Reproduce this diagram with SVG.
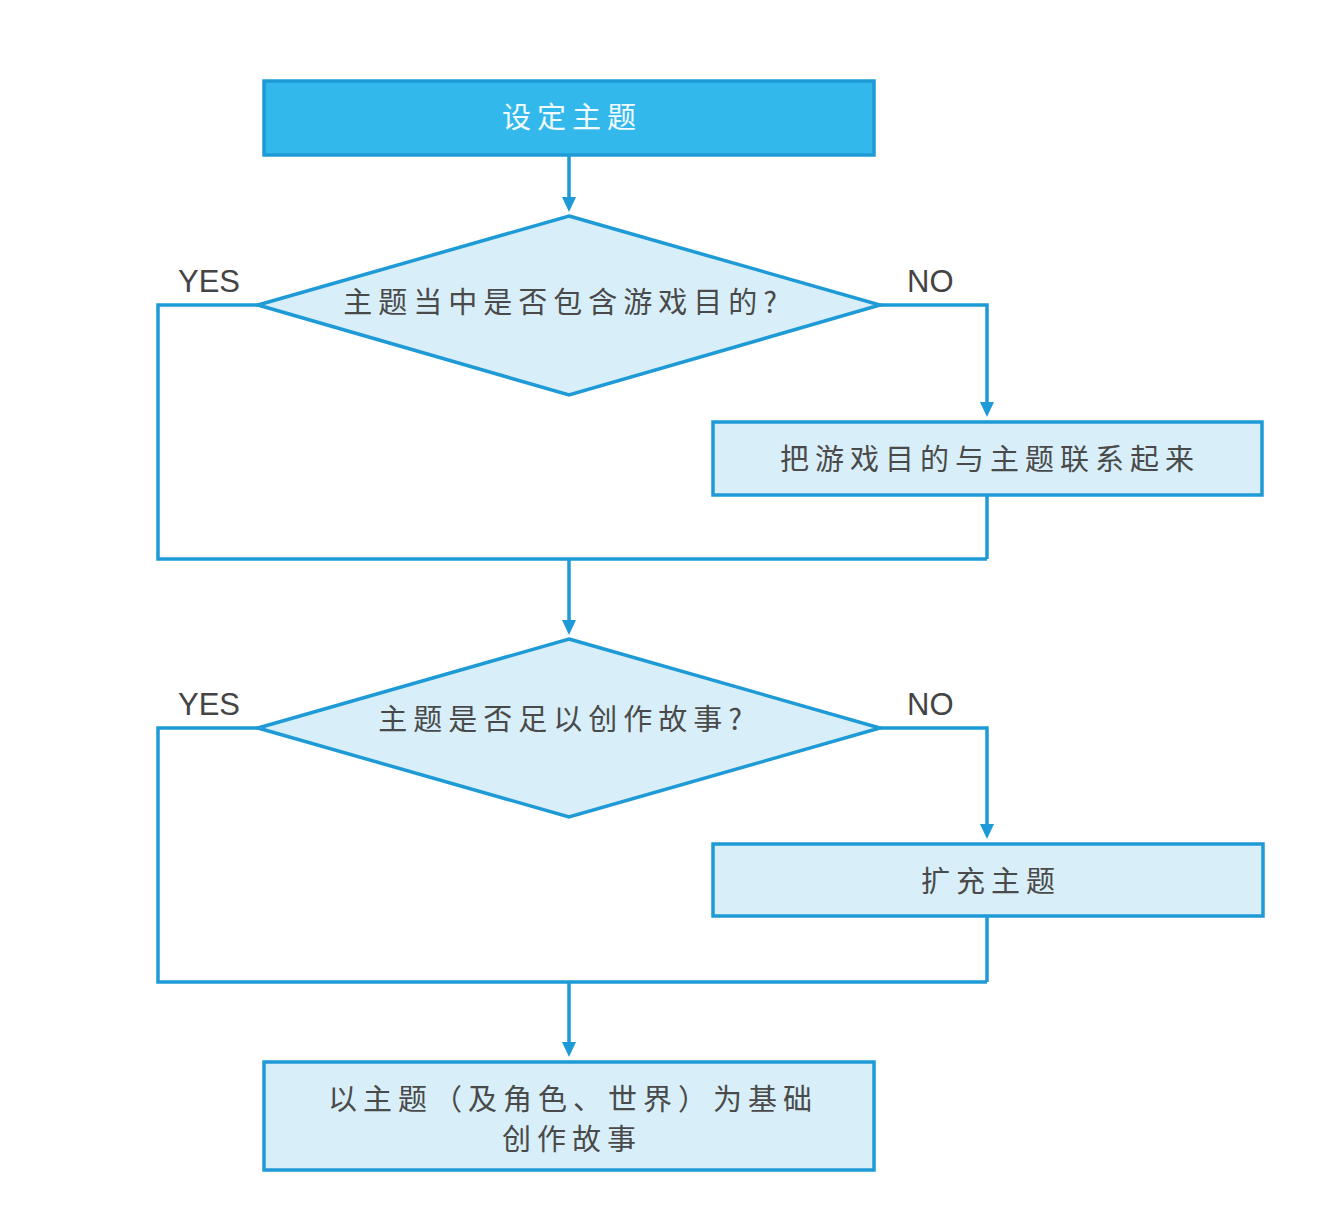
<svg xmlns="http://www.w3.org/2000/svg" width="1326" height="1208" viewBox="0 0 1326 1208">
<style>
.box{fill:#d8eff9;stroke:#1e9ad6;stroke-width:3.5}
.start{fill:#33b8ec;stroke:#1e9ad6;stroke-width:3.5}
.dia{fill:#d8eff9;stroke:#1e9ad6;stroke-width:3.5;stroke-linejoin:miter}
.cn{font-family:"Noto Sans CJK SC","Noto Sans",sans-serif;font-size:29px;letter-spacing:6px;fill:#4a4a4a;text-anchor:middle}
.wt{fill:#f2fbff}
.lbl{font-family:"Liberation Sans",Arial,sans-serif;font-size:31px;fill:#444}
.ln{fill:none;stroke:#1e9ad6;stroke-width:3.5}
.ah{fill:#1e9ad6}
</style>
<rect width="1326" height="1208" fill="#ffffff"/>
<g id="connectors">
<path class="ln" d="M569,155 V197"/>
<path class="ah" d="M562,197 L576,197 L569,212 Z"/>
<path class="ln" d="M258,305 H158 V559 H987"/>
<path class="ln" d="M987,495 V559"/>
<path class="ln" d="M880,305 H987 V402"/>
<path class="ah" d="M980,402 L994,402 L987,417 Z"/>
<path class="ln" d="M569,559 V620"/>
<path class="ah" d="M562,620 L576,620 L569,635 Z"/>
<path class="ln" d="M258,728 H158 V982 H987"/>
<path class="ln" d="M987,916 V982"/>
<path class="ln" d="M880,728 H987 V824"/>
<path class="ah" d="M980,824 L994,824 L987,839 Z"/>
<path class="ln" d="M569,982 V1042"/>
<path class="ah" d="M562,1042 L576,1042 L569,1057 Z"/>
<text class="lbl" x="178" y="292">YES</text>
<text class="lbl" x="907" y="292">NO</text>
<text class="lbl" x="178" y="715">YES</text>
<text class="lbl" x="907" y="715">NO</text>
</g>
<g id="n-start">
<rect class="start" x="264" y="81" width="610" height="74"/>
<text class="cn wt" x="572" y="128">设定主题</text>
</g>
<g id="n-dec1">
<polygon class="dia" points="569,216 880,305 569,395 258,305"/>
<text class="cn" x="563" y="313">主题当中是否包含游戏目的?</text>
</g>
<g id="n-link">
<rect class="box" x="713" y="422" width="549" height="73"/>
<text class="cn" x="990" y="470">把游戏目的与主题联系起来</text>
</g>
<g id="n-dec2">
<polygon class="dia" points="569,639 880,728 569,817 258,728"/>
<text class="cn" x="563" y="730">主题是否足以创作故事?</text>
</g>
<g id="n-expand">
<rect class="box" x="713" y="844" width="550" height="72"/>
<text class="cn" x="991" y="892">扩充主题</text>
</g>
<g id="n-end">
<rect class="box" x="264" y="1062" width="610" height="108"/>
<text class="cn" x="573" y="1110">以主题（及角色、世界）为基础</text>
<text class="cn" x="572" y="1150">创作故事</text>
</g>
</svg>
